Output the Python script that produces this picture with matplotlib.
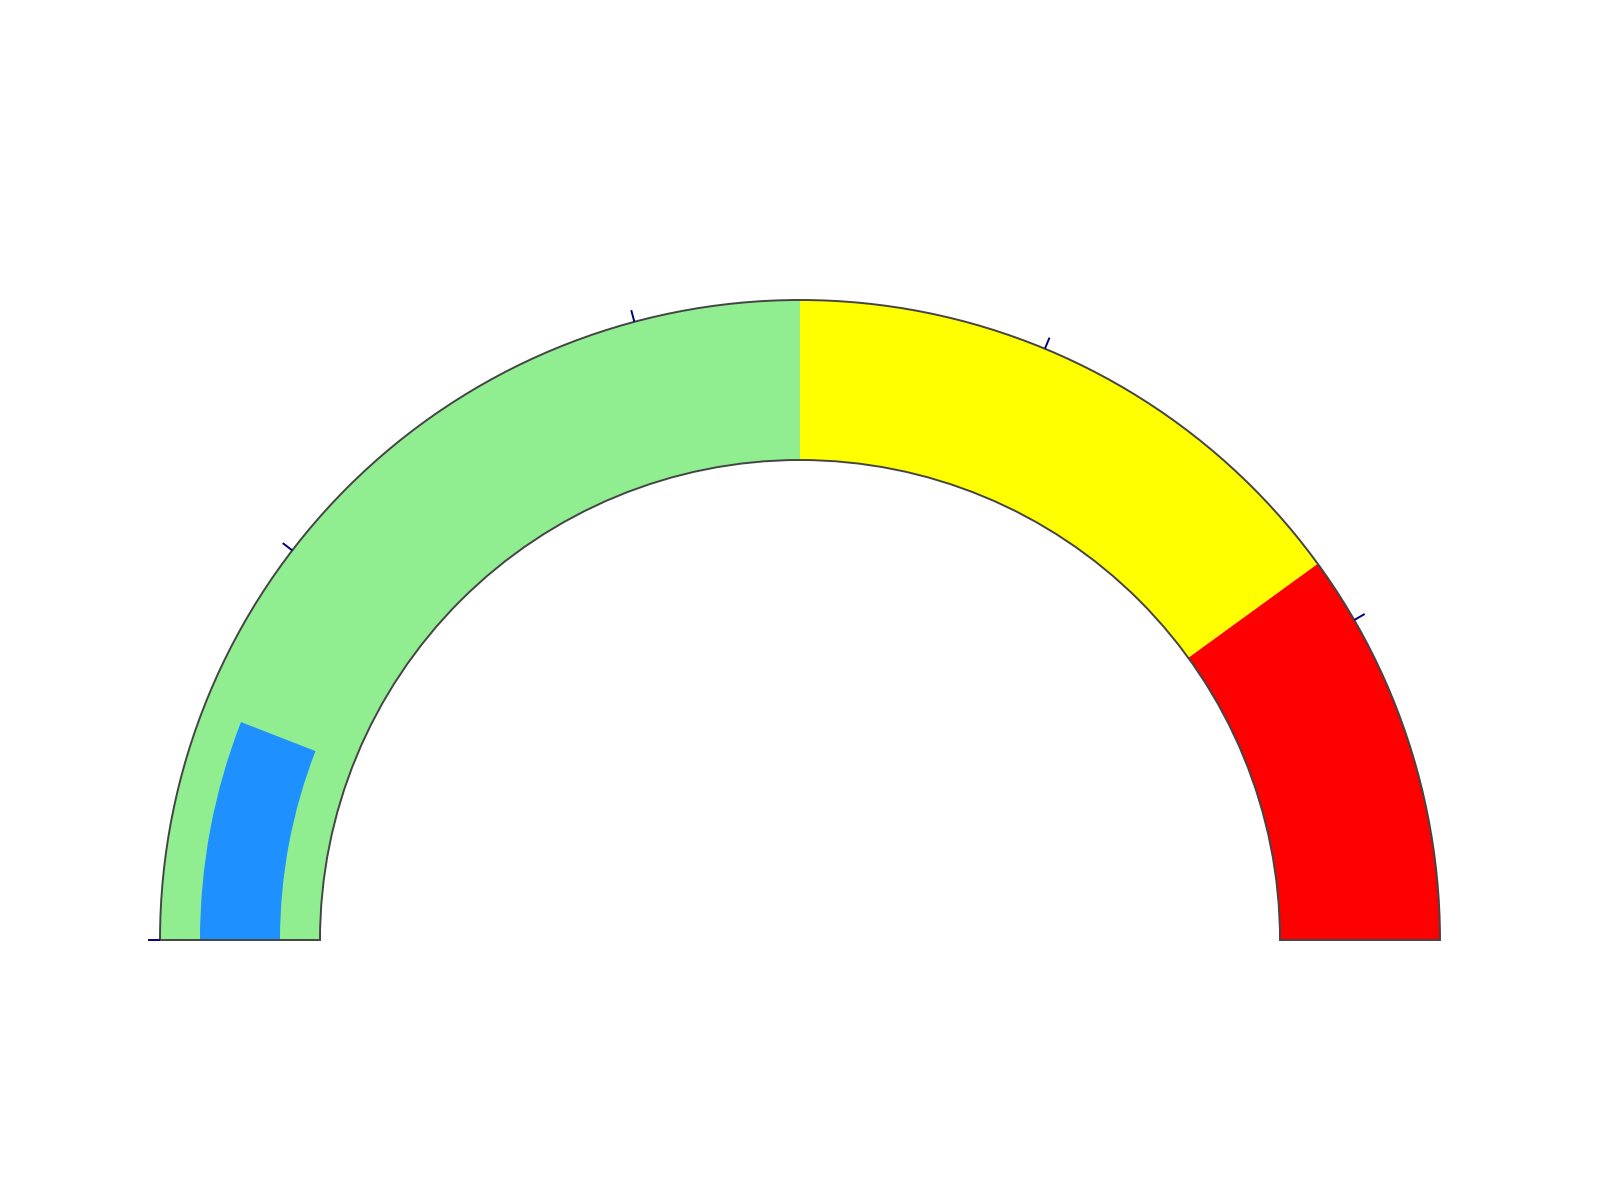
import numpy as np
import matplotlib
matplotlib.use("Agg")
import matplotlib.pyplot as plt
from matplotlib.patches import Wedge

# gauge data
gauge_min = 0
gauge_max = 120
value = 14.2
step_ranges = [(0, 60), (60, 96), (96, 120)]
step_colors = ["lightgreen", "yellow", "red"]
tick_values = [0, 25, 50, 75, 100]
bar_color = "dodgerblue"

# geometry in pixel units (y goes up)
cx, cy = 800, 260
r_out, r_in = 640, 480
bar_out, bar_in = 600, 520


def to_angle(v):
    return 180.0 - (v - gauge_min) / (gauge_max - gauge_min) * 180.0


fig = plt.figure(figsize=(16, 12), dpi=100)
ax = fig.add_axes([0, 0, 1, 1])
ax.set_xlim(0, 1600)
ax.set_ylim(0, 1200)
ax.set_aspect("equal")
ax.axis("off")

# steps, no edges between them
for (lo, hi), col in zip(step_ranges, step_colors):
    ax.add_patch(Wedge((cx, cy), r_out, to_angle(hi), to_angle(lo),
                       width=r_out - r_in, facecolor=col, edgecolor="none"))

# value bar
ax.add_patch(Wedge((cx, cy), bar_out, to_angle(value), to_angle(gauge_min),
                   width=bar_out - bar_in, facecolor=bar_color, edgecolor="none"))

# outline of the whole gauge
ax.add_patch(Wedge((cx, cy), r_out, to_angle(gauge_max), to_angle(gauge_min),
                   width=r_out - r_in, facecolor="none", edgecolor="#444444", lw=1.4))

# ticks outside
for t in tick_values:
    a = np.radians(to_angle(t))
    ax.plot([cx + r_out * np.cos(a), cx + (r_out + 12) * np.cos(a)],
            [cy + r_out * np.sin(a), cy + (r_out + 12) * np.sin(a)],
            color="navy", lw=1.4, solid_capstyle="butt")

plt.savefig("out.png", dpi=100)
